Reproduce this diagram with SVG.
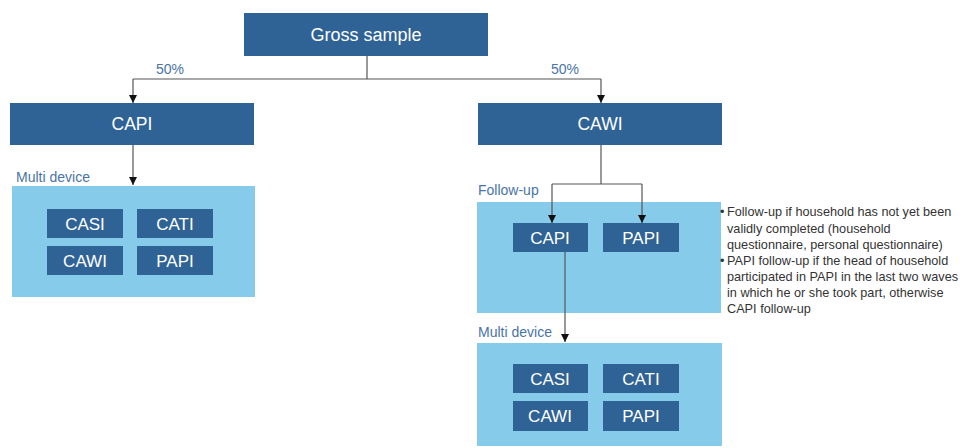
<svg xmlns="http://www.w3.org/2000/svg" width="969" height="448" viewBox="0 0 969 448">
<style>
.dk{fill:#2f6396}
.lt{fill:#86cbea}
.wt{fill:#ffffff;font-family:"Liberation Sans",Arial,sans-serif;text-anchor:middle}
.lb{fill:#4a74a6;font-family:"Liberation Sans",Arial,sans-serif;font-size:14px}
.note{fill:#333333;font-family:"Liberation Sans",Arial,sans-serif;font-size:12.7px}
.ln{fill:none;stroke:#555555;stroke-width:1.2}
</style>
<defs>
<marker id="ah" markerWidth="10" markerHeight="10" refX="9" refY="5" orient="auto" markerUnits="userSpaceOnUse" viewBox="0 0 10 10">
<path d="M1,1 L9,5 L1,9 Z" fill="#111111"/>
</marker>
</defs>
<rect width="969" height="448" fill="#ffffff"/>
<g id="gross">
<rect class="dk" x="244" y="13" width="244" height="43"/>
<text class="wt" x="366" y="41" font-size="18">Gross sample</text>
</g>
<g id="capi">
<rect class="dk" x="10" y="103" width="244" height="42"/>
<text class="wt" x="132" y="130" font-size="17.5">CAPI</text>
</g>
<g id="cawi">
<rect class="dk" x="478" y="103" width="244" height="42"/>
<text class="wt" x="600" y="130" font-size="17.5">CAWI</text>
</g>
<g id="multi-left">
<text class="lb" x="16" y="182">Multi device</text>
<rect class="lt" x="12" y="186" width="243" height="111"/>
<rect class="dk" x="47" y="209" width="76" height="29"/>
<text class="wt" x="85" y="230" font-size="17">CASI</text>
<rect class="dk" x="137" y="209" width="76" height="29"/>
<text class="wt" x="175" y="230" font-size="17">CATI</text>
<rect class="dk" x="47" y="246" width="76" height="29"/>
<text class="wt" x="85" y="267" font-size="17">CAWI</text>
<rect class="dk" x="137" y="246" width="76" height="29"/>
<text class="wt" x="175" y="267" font-size="17">PAPI</text>
</g>
<g id="followup">
<text class="lb" x="478" y="195">Follow-up</text>
<rect class="lt" x="477" y="202" width="244" height="111"/>
<rect class="dk" x="513" y="223" width="75" height="29"/>
<text class="wt" x="550" y="244" font-size="17">CAPI</text>
<rect class="dk" x="603" y="223" width="76" height="29"/>
<text class="wt" x="641" y="244" font-size="17">PAPI</text>
</g>
<g id="notes">
<text class="note" x="720" y="216">•</text>
<text class="note" x="727" y="216">Follow-up if household has not yet been</text>
<text class="note" x="727" y="233">validly completed (household</text>
<text class="note" x="727" y="249">questionnaire, personal questionnaire)</text>
<text class="note" x="720" y="265">•</text>
<text class="note" x="727" y="265">PAPI follow-up if the head of household</text>
<text class="note" x="727" y="281">participated in PAPI in the last two waves</text>
<text class="note" x="727" y="297">in which he or she took part, otherwise</text>
<text class="note" x="727" y="313">CAPI follow-up</text>
</g>
<g id="multi-right">
<text class="lb" x="478" y="337">Multi device</text>
<rect class="lt" x="477" y="343" width="245" height="103"/>
<rect class="dk" x="513" y="364" width="75" height="29"/>
<text class="wt" x="550" y="385" font-size="17">CASI</text>
<rect class="dk" x="603" y="364" width="76" height="29"/>
<text class="wt" x="641" y="385" font-size="17">CATI</text>
<rect class="dk" x="513" y="401" width="75" height="30"/>
<text class="wt" x="550" y="422" font-size="17">CAWI</text>
<rect class="dk" x="603" y="401" width="76" height="30"/>
<text class="wt" x="641" y="422" font-size="17">PAPI</text>
</g>
<g id="connectors">
<path class="ln" d="M367,56 V79"/>
<path class="ln" d="M133,79 H601"/>
<path class="ln" d="M133,79 V103" marker-end="url(#ah)"/>
<path class="ln" d="M601,79 V103" marker-end="url(#ah)"/>
<path class="ln" d="M133,145 V185" marker-end="url(#ah)"/>
<path class="ln" d="M601,145 V184"/>
<path class="ln" d="M552,184 H642"/>
<path class="ln" d="M552,184 V223" marker-end="url(#ah)"/>
<path class="ln" d="M642,184 V223" marker-end="url(#ah)"/>
<path class="ln" d="M565,252 V342" marker-end="url(#ah)"/>
<text class="lb" x="170" y="74" text-anchor="middle" font-size="13.5">50%</text>
<text class="lb" x="565" y="74" text-anchor="middle" font-size="13.5">50%</text>
</g>
</svg>
